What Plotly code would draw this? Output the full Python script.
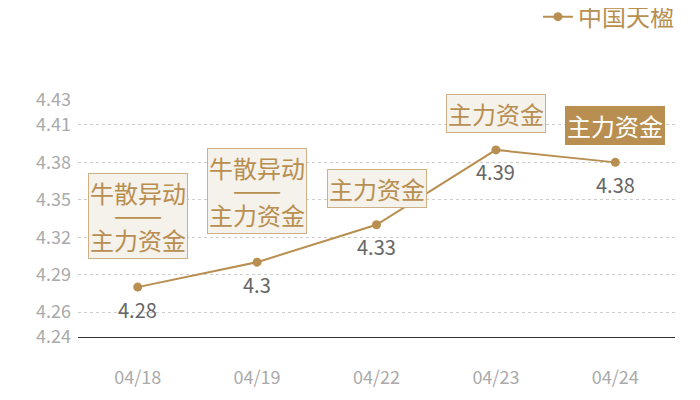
import plotly.graph_objects as go

dates = ["04/18", "04/19", "04/22", "04/23", "04/24"]
prices = [4.28, 4.30, 4.33, 4.39, 4.38]
price_labels = ["4.28", "4.3", "4.33", "4.39", "4.38"]
tick_vals = [4.24, 4.26, 4.29, 4.32, 4.35, 4.38, 4.41, 4.43]
tick_text = ["4.24", "4.26", "4.29", "4.32", "4.35", "4.38", "4.41", "4.43"]
tags = [
    ["牛散异动", "——", "主力资金"],
    ["牛散异动", "——", "主力资金"],
    ["主力资金"],
    ["主力资金"],
    ["主力资金"],
]
tag_filled = [False, False, False, False, True]
series_name = "中国天楹"

GOLD = "#b88f50"
BORDER = "#cdb083"
BOXBG = "#f5f1eb"
FONT = "Noto Sans CJK SC"

fig = go.Figure()
fig.add_trace(go.Scatter(
    x=dates, y=prices, name=series_name,
    mode="lines+markers",
    line=dict(color=GOLD, width=2),
    marker=dict(color=GOLD, size=9),
))

for d, p, lab in zip(dates, prices, price_labels):
    fig.add_annotation(
        x=d, y=p, text=lab, showarrow=False,
        yanchor="middle", yshift=-22,
        font=dict(size=20, color="#666666", family=FONT),
    )

for d, p, tag, filled in zip(dates, prices, tags, tag_filled):
    if len(tag) > 1:
        parts = []
        for t in tag:
            fs = 29 if set(t) == {"—"} else 24
            parts.append(f'<span style="font-size:{fs}px">{t}</span>')
        txt = "<br>".join(parts)
        base = 18
        shift = 28
    else:
        txt = tag[0]
        base = 24
        shift = 17
    fig.add_annotation(
        x=d, y=p, text=txt, showarrow=False,
        yanchor="bottom", yshift=shift,
        font=dict(size=base, color="white" if filled else GOLD, family=FONT),
        bgcolor=GOLD if filled else BOXBG,
        bordercolor=GOLD if filled else BORDER,
        borderwidth=1, borderpad=1,
    )

fig.update_layout(
    width=700, height=400,
    margin=dict(l=70, r=33, t=92, b=71, autoexpand=False),
    paper_bgcolor="white", plot_bgcolor="white",
    font=dict(family=FONT),
    showlegend=True,
    legend=dict(
        xref="paper", yref="paper",
        x=1.0066, xanchor="right", y=1.35, yanchor="middle",
        font=dict(size=24, color=GOLD, family=FONT),
        itemwidth=30, bgcolor="rgba(0,0,0,0)",
    ),
    xaxis=dict(
        type="category", range=[-0.5, 4.5],
        showgrid=False, showline=True, linecolor="#333333", linewidth=1,
        ticks="", ticklabelstandoff=24,
        tickfont=dict(size=18, color="#aaaaaa", family=FONT),
        zeroline=False, fixedrange=True,
    ),
    yaxis=dict(
        range=[4.24, 4.43],
        tickvals=tick_vals, ticktext=tick_text,
        showgrid=True, gridcolor="#cccccc", griddash="dot", gridwidth=1,
        showline=False, zeroline=False, ticks="",
        tickfont=dict(size=18, color="#aaaaaa", family=FONT),
        ticklabelstandoff=6,
    ),
)

fig.write_html("out.html")
